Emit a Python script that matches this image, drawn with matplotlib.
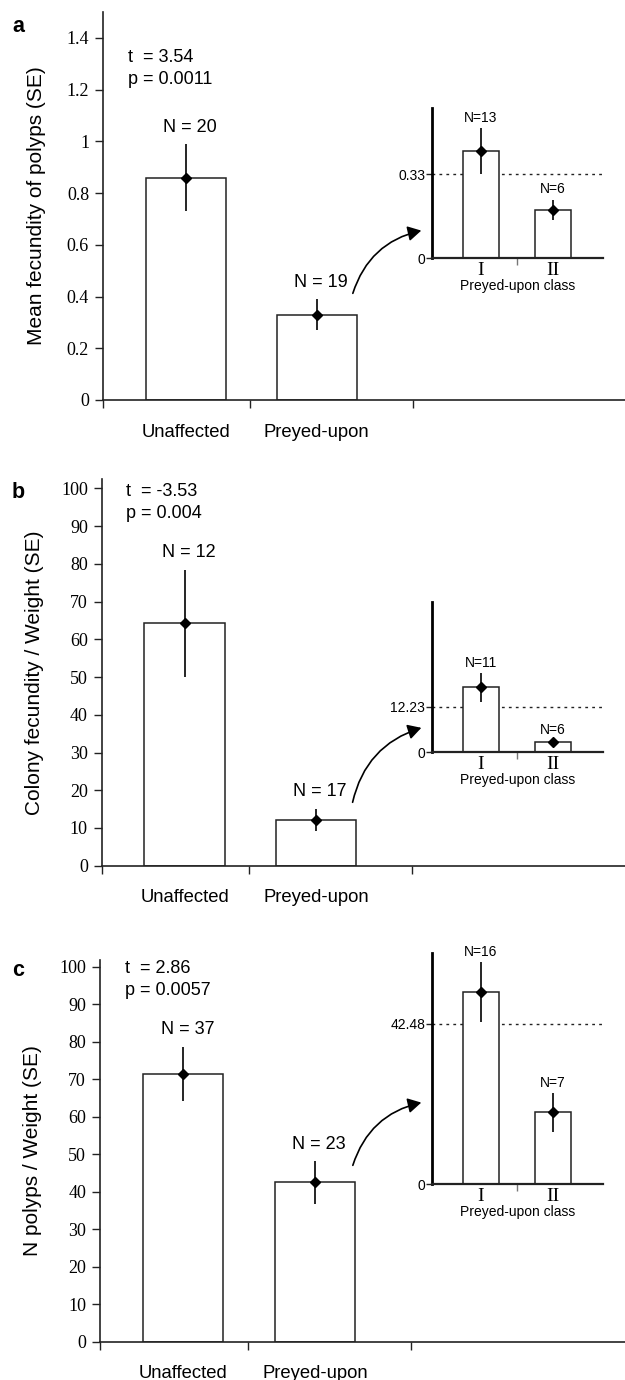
import matplotlib
matplotlib.use("Agg")
import matplotlib.pyplot as plt
from matplotlib.ticker import FormatStrFormatter

# --- data ---
groups = ["Unaffected", "Preyed-upon"]
classes = ["I", "II"]

a_mean = [0.86, 0.33]
a_se = [0.13, 0.06]
a_n = [20, 19]
a_cls_mean = [0.42, 0.19]
a_cls_se = [0.09, 0.04]
a_cls_n = [13, 6]

b_mean = [64.2, 12.23]
b_se = [14.3, 2.9]
b_n = [12, 17]
b_cls_mean = [17.4, 2.76]
b_cls_se = [3.8, 0.4]
b_cls_n = [11, 6]

c_mean = [71.5, 42.48]
c_se = [7.2, 5.7]
c_n = [37, 23]
c_cls_mean = [50.9, 19.0]
c_cls_se = [7.9, 5.1]
c_cls_n = [16, 7]

ref_values = [0.33, 12.23, 42.48]
stats = [("t  = 3.54", "p = 0.0011"),
         ("t  = -3.53", "p = 0.004"),
         ("t  = 2.86", "p = 0.0057")]
ylabels = ["Mean fecundity of polyps (SE)",
           "Colony fecundity / Weight (SE)",
           "N polyps / Weight (SE)"]
panel_tags = ["a", "b", "c"]

W, H = 625, 1380
SANS = "Liberation Sans"
SERIF = "Liberation Serif"
LINE = "#222222"


def box(x0, x1, y_top, y_bot):
    # pixel box -> figure fraction [left, bottom, width, height]
    return [x0 / W, 1 - y_bot / H, (x1 - x0) / W, (y_bot - y_top) / H]


def main_panel(fig, rect, means, ses, ns, ylim, yticks, yfmt, ylab, stat, tag, stat_off, tag_y):
    ax = fig.add_axes(rect)
    x = [0, 1]
    ax.bar(x, means, width=0.61, color="white", edgecolor=LINE, linewidth=1.1, zorder=2)
    ax.errorbar(x, means, yerr=ses, fmt="D", color="black", ms=5, elinewidth=1.2,
                capsize=0, zorder=3)
    for xi, m, s, n in zip(x, means, ses, ns):
        ax.annotate(f"N = {n}", (xi, m + s), xytext=(3, 12), textcoords="offset points",
                    ha="center", va="center", fontsize=13, family=SANS)
    ax.set_xlim(-0.63, 3.35)
    ax.set_ylim(*ylim)
    ax.set_yticks(yticks)
    ax.yaxis.set_major_formatter(FormatStrFormatter(yfmt))
    ax.set_xticks(x)
    ax.set_xticklabels(groups, family=SANS, fontsize=13.3)
    ax.set_xticks([-0.63, 0.49, 1.73], minor=True)
    ax.tick_params(axis="x", which="major", length=0, pad=17)
    ax.tick_params(axis="x", which="minor", length=6, width=1, color=LINE, direction="out")
    ax.tick_params(axis="y", length=6, width=1, color=LINE, direction="out", pad=4,
                   labelsize=13)
    for lbl in ax.get_yticklabels():
        lbl.set_family(SERIF)
    for side in ["top", "right"]:
        ax.spines[side].set_visible(False)
    for side in ["left", "bottom"]:
        ax.spines[side].set_linewidth(1.2)
        ax.spines[side].set_color(LINE)
    ax.set_ylabel(ylab, family=SANS, fontsize=15)
    ax.yaxis.set_label_coords(-0.11, 0.5)
    ax.text(0.047, 1 - stat_off / rect[3] / H, stat[0] + "\n" + stat[1],
            transform=ax.transAxes, ha="left", va="top", fontsize=13, family=SANS,
            linespacing=1.35)
    fig.text(18 / W, 1 - tag_y / H, tag, fontsize=15.5, fontweight="bold", family=SANS,
             ha="center", va="center")
    return ax


def inset_panel(fig, rect, means, ses, ns, ylim, ref):
    ax = fig.add_axes(rect)
    x = [0, 1]
    ax.bar(x, means, width=0.5, color="white", edgecolor=LINE, linewidth=1.1, zorder=2)
    ax.errorbar(x, means, yerr=ses, fmt="D", color="black", ms=5, elinewidth=1.2,
                capsize=0, zorder=3)
    ax.axhline(ref, color=LINE, lw=1, ls=(0, (2, 3)), zorder=1)
    for xi, m, s, n in zip(x, means, ses, ns):
        ax.annotate(f"N={n}", (xi, m + s), xytext=(0, 7.5), textcoords="offset points",
                    ha="center", va="center", fontsize=10, family=SANS)
    ax.set_xlim(-0.674, 1.687)
    ax.set_ylim(*ylim)
    ax.set_yticks([0, ref])
    ax.set_yticklabels(["0", f"{ref:g}"], family=SANS, fontsize=10)
    ax.set_xticks(x)
    ax.set_xticklabels(classes, family=SERIF, fontsize=14)
    ax.set_xticks([0.5], minor=True)
    ax.tick_params(axis="x", which="major", length=0, pad=3)
    ax.tick_params(axis="x", which="minor", length=5, width=1, color="#777777")
    ax.tick_params(axis="y", length=4, width=1, color=LINE, pad=1)
    ax.set_xlabel("Preyed-upon class", family=SANS, fontsize=10, labelpad=0)
    for side in ["top", "right"]:
        ax.spines[side].set_visible(False)
    ax.spines["left"].set_linewidth(2)
    ax.spines["bottom"].set_linewidth(1.6)
    ax.spines["left"].set_color("black")
    ax.spines["bottom"].set_color(LINE)
    return ax


fig = plt.figure(figsize=(W / 100, H / 100), dpi=100)

# panel a
main_panel(fig, box(103, 625, 12, 400), a_mean, a_se, a_n, (0, 1.5),
           [0, 0.2, 0.4, 0.6, 0.8, 1.0, 1.2, 1.4], "%g", ylabels[0], stats[0], panel_tags[0],
           37, 27)
inset_panel(fig, box(432, 603, 108, 258), a_cls_mean, a_cls_se, a_cls_n, (0, 0.59),
            ref_values[0])

# panel b
main_panel(fig, box(101.7, 625, 479, 865.7), b_mean, b_se, b_n, (0, 102.5),
           list(range(0, 101, 10)), "%d", ylabels[1], stats[1], panel_tags[1],
           4, 493)
inset_panel(fig, box(432, 603, 602.3, 752.3), b_cls_mean, b_cls_se, b_cls_n, (0, 40.2),
            ref_values[1])

# panel c
main_panel(fig, box(100, 625, 960, 1341.7), c_mean, c_se, c_n, (0, 101.8),
           list(range(0, 101, 10)), "%d", ylabels[2], stats[2], panel_tags[2],
           0, 970)
inset_panel(fig, box(432, 603, 953.3, 1184), c_cls_mean, c_cls_se, c_cls_n, (0, 61.2),
            ref_values[2])

# curved arrows from the preyed-upon bar to the inset
for tail, head in [((352, 296), (424, 230)), ((352, 805), (424, 727)),
                   ((352, 1168), (424, 1102))]:
    fig.add_artist(matplotlib.patches.FancyArrowPatch(
        (tail[0] / W, 1 - tail[1] / H), (head[0] / W, 1 - head[1] / H),
        transform=fig.transFigure, connectionstyle="arc3,rad=-0.3",
        arrowstyle="-|>,head_length=8,head_width=4.5", color="black", lw=1.2))

fig.savefig("out.png", dpi=100)
